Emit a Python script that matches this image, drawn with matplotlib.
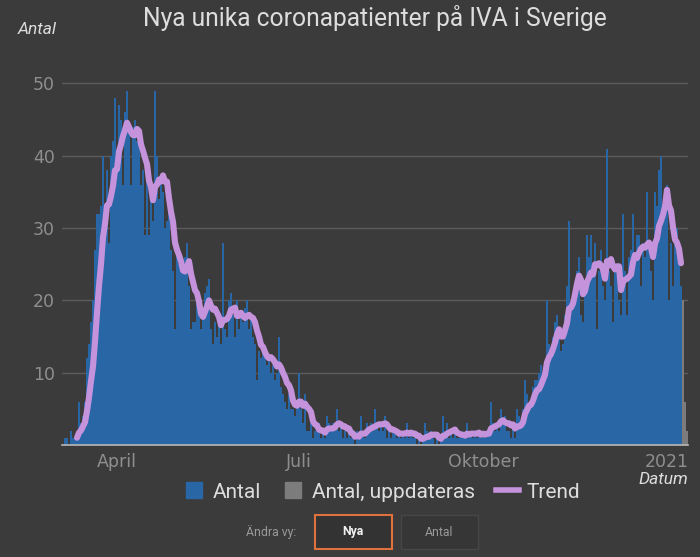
import matplotlib
matplotlib.use("Agg")
import matplotlib.pyplot as plt
import numpy as np
import pandas as pd
from matplotlib.lines import Line2D
from matplotlib.patches import Rectangle

# daily new ICU patients, 2020-03-06 .. 2021-01-08 (blue), then days still being updated (gray)
start_date = "2020-03-06"
antal = [
    1, 1, 0, 2, 1, 1, 1, 6, 3, 4, 6, 12, 14, 17, 20, 27, 32, 32, 33, 40,
    30, 38, 28, 40, 42, 48, 41, 47, 45, 36, 46, 49, 44, 36, 44, 45, 42, 44, 36, 38,
    29, 38, 29, 36, 31, 49, 40, 34, 36, 35, 30, 31, 33, 27, 24, 16, 28, 25, 25, 24,
    26, 28, 22, 16, 17, 17, 21, 18, 16, 19, 21, 22, 23, 16, 14, 17, 15, 17, 14, 28,
    16, 15, 20, 21, 18, 15, 20, 16, 18, 17, 19, 20, 16, 18, 15, 14, 9, 13, 12, 14,
    13, 11, 12, 10, 11, 9, 10, 15, 8, 7, 6, 5, 7, 5, 5, 4, 6, 10, 5, 3,
    7, 2, 2, 3, 1, 2, 2, 3, 1, 2, 1, 4, 3, 2, 3, 2, 5, 2, 3, 1,
    2, 1, 2, 1, 1, 0, 2, 1, 4, 2, 1, 3, 2, 3, 2, 5, 3, 2, 3, 2,
    4, 1, 2, 1, 2, 2, 1, 2, 1, 2, 1, 3, 1, 2, 1, 1, 0, 1, 0, 1,
    3, 2, 1, 2, 1, 0, 1, 0, 1, 4, 2, 3, 1, 2, 1, 2, 1, 1, 2, 1,
    1, 3, 1, 2, 1, 2, 1, 2, 1, 2, 1, 2, 2, 6, 3, 2, 3, 2, 5, 3,
    4, 2, 2, 1, 3, 1, 5, 4, 3, 5, 9, 7, 5, 6, 8, 9, 9, 10, 11, 10,
    11, 20, 14, 12, 15, 17, 18, 16, 13, 14, 18, 22, 31, 19, 20, 22, 24, 26, 18, 17,
    22, 29, 26, 29, 24, 28, 16, 24, 27, 22, 20, 41, 24, 22, 17, 24, 25, 20, 18, 32,
    24, 18, 26, 27, 32, 25, 29, 29, 22, 28, 26, 35, 27, 24, 20, 35, 33, 38, 40, 33,
    32, 36, 20, 28, 22, 28, 30, 26, 22,
]
antal_uppdateras = [20, 6, 2]

legend_labels = ["Antal", "Antal, uppdateras", "Trend"]
tick_dates = ["2020-04-01", "2020-07-01", "2020-10-01", "2021-01-01"]
tick_labels = ["April", "Juli", "Oktober", "2021"]
y_ticks = [10, 20, 30, 40, 50]

BG = "#3b3b3b"
BLUE = "#2866a6"
GRAY = "#7c7c7c"
TREND = "#c592dc"
TXT = "#dddddd"
TICK = "#8e8e8e"
FONT = ["Roboto", "DejaVu Sans"]

days = pd.date_range(start_date, periods=len(antal), freq="D")
days_upd = pd.date_range(days[-1] + pd.Timedelta(days=1), periods=len(antal_uppdateras), freq="D")
trend = pd.Series(antal, index=days).rolling(7).mean()

W, H = 700, 557
fig = plt.figure(figsize=(W / 100, H / 100), dpi=100, facecolor=BG)


def fx(x):
    return x / W


def fy(y):
    return 1 - y / H


ymax = 52.0
ax = fig.add_axes([fx(62), fy(445), fx(688) - fx(62), ymax * 7.23 / H])
ax.set_facecolor(BG)

ax.bar(days, antal, width=0.8, color=BLUE, linewidth=0, zorder=2)
ax.bar(days_upd, antal_uppdateras, width=0.8, color=GRAY, linewidth=0, zorder=2)
ax.plot(trend.index, trend.values, color=TREND, linewidth=4.4, solid_capstyle="round",
        solid_joinstyle="round", zorder=3)

x0 = pd.Timestamp(start_date) - pd.Timedelta(hours=36)
ax.set_xlim(x0, x0 + pd.Timedelta(days=313))
ax.set_ylim(0, ymax)

ax.set_yticks(y_ticks)
ax.set_yticklabels([str(v) for v in y_ticks])
ax.set_xticks(pd.to_datetime(tick_dates))
ax.set_xticklabels(tick_labels)
ax.tick_params(axis="both", length=0, labelsize=12.5, colors=TICK)
ax.tick_params(axis="x", pad=6)
ax.tick_params(axis="y", pad=5)
ax.grid(axis="y", color="#5c5c5c", linewidth=1, zorder=0)
for s in ["top", "right", "left"]:
    ax.spines[s].set_visible(False)
ax.spines["bottom"].set_color("#b8b8b8")
ax.spines["bottom"].set_linewidth(1.2)
ax.spines["bottom"].set_zorder(4)

fig.text(fx(375), fy(18), "Nya unika coronapatienter på IVA i Sverige", ha="center", va="center",
         color=TXT, fontsize=17.7, family=FONT)
fig.text(fx(18), fy(29), "Antal", ha="left", va="center", color=TXT, fontsize=12.5, style="italic",
         family=FONT)
fig.text(fx(688), fy(479), "Datum", ha="right", va="center", color=TXT, fontsize=12.5, style="italic",
         family=FONT)

handles = [
    Line2D([], [], marker="s", linestyle="none", markersize=11, color=BLUE),
    Line2D([], [], marker="s", linestyle="none", markersize=11, color=GRAY),
    Line2D([], [], color=TREND, linewidth=4),
]
leg = fig.legend(handles, legend_labels, loc="center", bbox_to_anchor=(fx(381), fy(492)), ncol=3,
                 frameon=False, handlelength=1.1, handletextpad=0.35, columnspacing=1.0,
                 prop={"family": FONT, "size": 15})
for t in leg.get_texts():
    t.set_color(TXT)

# view switch buttons under the chart
fig.text(fx(296), fy(532), "Ändra vy:", ha="right", va="center", color="#9a9a9a", fontsize=8.8,
         family=FONT)
fig.patches.append(Rectangle((fx(315), fy(549)), fx(392) - fx(315), (549 - 515) / H,
                             transform=fig.transFigure, facecolor="#333333", edgecolor="#e0703c",
                             linewidth=1.5))
fig.text(fx(353), fy(532), "Nya", ha="center", va="center", color="#f0f0f0", fontsize=8.8,
         weight="bold", family=FONT)
fig.patches.append(Rectangle((fx(401), fy(549)), fx(478) - fx(401), (549 - 515) / H,
                             transform=fig.transFigure, facecolor="#363636", edgecolor="#474747",
                             linewidth=1))
fig.text(fx(439), fy(532), "Antal", ha="center", va="center", color="#9a9a9a", fontsize=8.8,
         family=FONT)

fig.savefig("out.png", dpi=100, facecolor=BG)
